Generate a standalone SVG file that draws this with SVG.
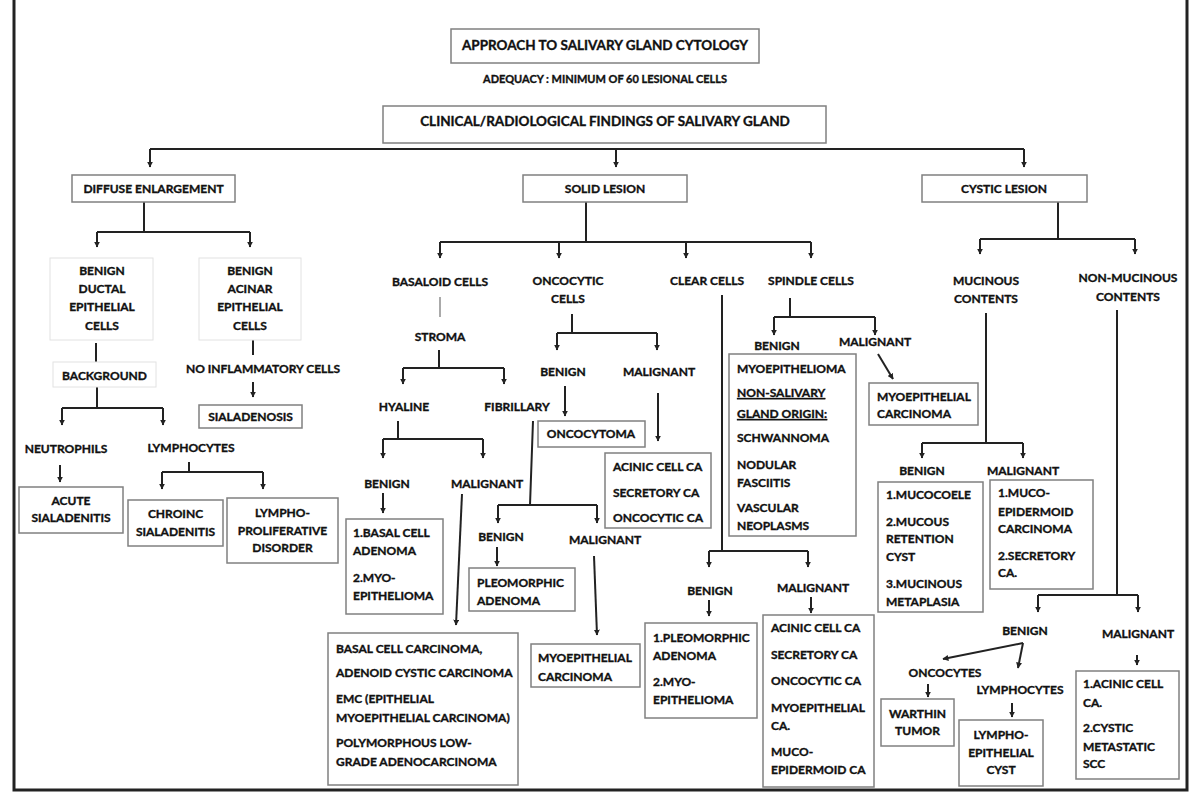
<svg xmlns="http://www.w3.org/2000/svg" width="1200" height="794" viewBox="0 0 1200 794">
<style>
text{font-family:Lato,"Liberation Sans",sans-serif;font-weight:700;font-size:12px;fill:#111;stroke:#111;stroke-width:0.35}
.c{text-anchor:middle}
.h{font-size:13.5px}
.s{font-size:11px}
.b{fill:#fff;stroke:#808080;stroke-width:1.5}
.f{fill:#fff;stroke:#e2e2e2;stroke-width:1}
.ln{stroke:#222;stroke-width:2;fill:none}
.ar{marker-end:url(#ah)}
.g{stroke:#aaa}
.u{text-decoration:underline}
</style>
<defs>
<marker id="ah" viewBox="0 0 10 10" refX="9" refY="5" markerWidth="6" markerHeight="6" markerUnits="userSpaceOnUse" orient="auto">
<path d="M0,0 L10,5 L0,10 z" fill="#222"/>
</marker>
</defs>
<rect width="1200" height="794" fill="#fff"/>
<path d="M14,-5 V790 H1187 V-5" fill="none" stroke="#222" stroke-width="3"/>

<g id="connectors" class="ln">
<path d="M150,149 H1024"/>
<path class="ar" d="M150,149 V167"/><path class="ar" d="M616,149 V167"/><path class="ar" d="M1024,149 V167"/>
<path d="M144,202 V232 M97,232 H250"/>
<path class="ar" d="M97,232 V247"/><path class="ar" d="M250,232 V247"/>
<path d="M96,343 V362"/>
<path d="M97,387 V408 M62,408 H163"/>
<path class="ar" d="M62,408 V425"/><path class="ar" d="M163,408 V425"/>
<path d="M253,340 V355"/>
<path class="ar" d="M253,382 V397"/>
<path class="ar" d="M60,465 V482"/>
<path d="M189,462 V472 M162,472 H263"/>
<path class="ar" d="M162,472 V489"/><path class="ar" d="M263,472 V489"/>
<path d="M586,202 V242 M440,242 H811"/>
<path class="ar" d="M440,242 V258"/><path class="ar" d="M559,242 V258"/><path class="ar" d="M686,242 V258"/><path class="ar" d="M811,242 V258"/>
<path class="g" d="M440,297 V317"/>
<path d="M439,350 V368 M403,368 H504"/>
<path class="ar" d="M403,368 V384"/><path class="ar" d="M504,368 V384"/>
<path d="M398,421 V439 M383,439 H483"/>
<path class="ar" d="M383,439 V458"/><path class="ar" d="M483,439 V458"/>
<path class="ar" d="M383,493 V513"/>
<path class="ar" d="M462,494 L456,625"/>
<path d="M572,314 V333 M557,333 H657"/>
<path class="ar" d="M557,333 V350"/><path class="ar" d="M657,333 V350"/>
<path class="ar" d="M565,386 V416"/>
<path class="ar" d="M658,393 V441"/>
<path d="M533,421 L530,505 M498,505 H597"/>
<path class="ar" d="M498,505 V523"/><path class="ar" d="M597,505 V523"/>
<path class="ar" d="M497,547 V566"/>
<path class="ar" d="M594,556 L597,635"/>
<path d="M722,295 V551 M709,551 H808"/>
<path class="ar" d="M709,551 V567"/><path class="ar" d="M808,551 V567"/>
<path class="ar" d="M709,600 V616"/>
<path class="ar" d="M811,597 V613"/>
<path d="M790,298 V317 M774,317 H875"/>
<path class="ar" d="M774,317 V335"/><path class="ar" d="M875,317 V335"/>
<path class="ar" d="M878,354 L893,379"/>
<path d="M1058,202 V239 M980,239 H1135"/>
<path class="ar" d="M980,239 V254"/><path class="ar" d="M1135,239 V254"/>
<path d="M986,313 V443 M922,443 H1023"/>
<path class="ar" d="M922,443 V458"/><path class="ar" d="M1023,443 V458"/>
<path d="M1117,310 V595 M1038,595 H1138"/>
<path class="ar" d="M1038,595 V612"/><path class="ar" d="M1138,595 V612"/>
<path class="ar" d="M1023,643 L943,659"/>
<path class="ar" d="M1023,643 L1018,668"/>
<path class="ar" d="M928,684 V697"/>
<path class="ar" d="M1012,703 V717"/>
<path class="ar" d="M1137,655 V665"/>
</g>

<g id="title"><rect class="b" x="451" y="29" width="308" height="34"/><text class="c h" x="605" y="50">APPROACH TO SALIVARY GLAND CYTOLOGY</text></g>
<g id="adequacy"><text class="c s" x="605" y="83">ADEQUACY : MINIMUM OF 60 LESIONAL CELLS</text></g>
<g id="clinical"><rect class="b" x="383" y="106" width="443" height="37"/><text class="c h" x="605" y="126">CLINICAL/RADIOLOGICAL FINDINGS OF SALIVARY GLAND</text></g>

<g id="diffuse"><rect class="b" x="72" y="175" width="163" height="27"/><text class="c" x="153.5" y="193">DIFFUSE ENLARGEMENT</text></g>
<g id="solid"><rect class="b" x="523" y="175" width="164" height="27"/><text class="c" x="605" y="193">SOLID LESION</text></g>
<g id="cystic"><rect class="b" x="922" y="175" width="165" height="27"/><text class="c" x="1004" y="193">CYSTIC LESION</text></g>

<g id="ductal"><rect class="f" x="50" y="258" width="103" height="82"/>
<text class="c" x="102" y="275">BENIGN</text><text class="c" x="102" y="293">DUCTAL</text><text class="c" x="102" y="311">EPITHELIAL</text><text class="c" x="102" y="330">CELLS</text></g>
<g id="acinar"><rect class="f" x="199" y="258" width="102" height="82"/>
<text class="c" x="250" y="275">BENIGN</text><text class="c" x="250" y="293">ACINAR</text><text class="c" x="250" y="311">EPITHELIAL</text><text class="c" x="250" y="330">CELLS</text></g>
<g id="background"><rect class="f" x="53" y="362" width="103" height="25"/><text class="c" x="104.5" y="380">BACKGROUND</text></g>
<g id="noinfl"><text class="c" x="263" y="373">NO INFLAMMATORY CELLS</text></g>
<g id="sialadenosis"><rect class="b" x="199" y="405" width="103" height="23"/><text class="c" x="250.5" y="421">SIALADENOSIS</text></g>
<g id="neutrophils"><text class="c" x="66" y="453">NEUTROPHILS</text></g>
<g id="acute"><rect class="b" x="19" y="487" width="104" height="46"/><text class="c" x="71" y="505">ACUTE</text><text class="c" x="71" y="522">SIALADENITIS</text></g>
<g id="lymphocytes1"><text class="c" x="191" y="452">LYMPHOCYTES</text></g>
<g id="chronic"><rect class="b" x="128" y="500" width="95" height="46"/><text class="c" x="175.5" y="518">CHROINC</text><text class="c" x="175.5" y="536">SIALADENITIS</text></g>
<g id="lympho"><rect class="b" x="227" y="498" width="111" height="65"/><text class="c" x="282.5" y="517">LYMPHO-</text><text class="c" x="282.5" y="535">PROLIFERATIVE</text><text class="c" x="282.5" y="552">DISORDER</text></g>

<g id="basaloid"><text class="c" x="440" y="286">BASALOID CELLS</text></g>
<g id="stroma"><text class="c" x="440" y="341">STROMA</text></g>
<g id="hyaline"><text class="c" x="404" y="411">HYALINE</text></g>
<g id="fibrillary"><text class="c" x="517" y="411">FIBRILLARY</text></g>
<g id="hyaline-benign"><text class="c" x="387" y="488">BENIGN</text></g>
<g id="hyaline-malignant"><text class="c" x="487" y="488">MALIGNANT</text></g>
<g id="basal-adenoma"><rect class="b" x="346" y="519" width="97" height="95"/>
<text x="353" y="537">1.BASAL CELL</text><text x="353" y="555">ADENOMA</text><text x="353" y="582">2.MYO-</text><text x="353" y="600">EPITHELIOMA</text></g>
<g id="basal-carcinoma"><rect class="b" x="328" y="633" width="190" height="152"/>
<text x="336" y="653">BASAL CELL CARCINOMA,</text><text x="336" y="677">ADENOID CYSTIC CARCINOMA</text><text x="336" y="703">EMC (EPITHELIAL</text><text x="336" y="722">MYOEPITHELIAL CARCINOMA)</text><text x="336" y="747">POLYMORPHOUS LOW-</text><text x="336" y="766">GRADE ADENOCARCINOMA</text></g>

<g id="oncocytic"><text class="c" x="568" y="285">ONCOCYTIC</text><text class="c" x="568" y="303">CELLS</text></g>
<g id="onco-benign"><text class="c" x="563" y="376">BENIGN</text></g>
<g id="onco-malignant"><text class="c" x="659" y="376">MALIGNANT</text></g>
<g id="oncocytoma"><rect class="b" x="538" y="421" width="107" height="26"/><text class="c" x="591" y="438">ONCOCYTOMA</text></g>
<g id="onco-ca"><rect class="b" x="605" y="453" width="106" height="75"/>
<text x="613" y="471">ACINIC CELL CA</text><text x="613" y="497">SECRETORY CA</text><text x="613" y="522">ONCOCYTIC CA</text></g>

<g id="fib-benign"><text class="c" x="501" y="541">BENIGN</text></g>
<g id="fib-malignant"><text class="c" x="605" y="544">MALIGNANT</text></g>
<g id="pleomorphic"><rect class="b" x="469" y="568" width="106" height="43"/><text x="477" y="587">PLEOMORPHIC</text><text x="477" y="605">ADENOMA</text></g>
<g id="myo-ca1"><rect class="b" x="531" y="644" width="109" height="43"/><text x="538" y="662">MYOEPITHELIAL</text><text x="538" y="681">CARCINOMA</text></g>

<g id="clear"><text class="c" x="707" y="285">CLEAR CELLS</text></g>
<g id="clear-benign"><text class="c" x="710" y="595">BENIGN</text></g>
<g id="clear-malignant"><text class="c" x="813" y="592">MALIGNANT</text></g>
<g id="clear-benign-box"><rect class="b" x="645" y="623" width="112" height="95"/>
<text x="653" y="642">1.PLEOMORPHIC</text><text x="653" y="660">ADENOMA</text><text x="653" y="686">2.MYO-</text><text x="653" y="704">EPITHELIOMA</text></g>
<g id="clear-malignant-box"><rect class="b" x="763" y="615" width="111" height="172"/>
<text x="771" y="632">ACINIC CELL CA</text><text x="771" y="659">SECRETORY CA</text><text x="771" y="685">ONCOCYTIC CA</text><text x="771" y="712">MYOEPITHELIAL</text><text x="771" y="730">CA.</text><text x="771" y="756">MUCO-</text><text x="771" y="774">EPIDERMOID CA</text></g>

<g id="spindle"><text class="c" x="811" y="285">SPINDLE CELLS</text></g>
<g id="spindle-benign"><text class="c" x="777" y="350">BENIGN</text></g>
<g id="spindle-malignant"><text class="c" x="875" y="346">MALIGNANT</text></g>
<g id="spindle-benign-box"><rect class="b" x="729" y="354" width="127" height="182"/>
<text x="737" y="373">MYOEPITHELIOMA</text><text class="u" x="737" y="397">NON-SALIVARY</text><text class="u" x="737" y="418">GLAND ORIGIN:</text><text x="737" y="442">SCHWANNOMA</text><text x="737" y="469">NODULAR</text><text x="737" y="487">FASCIITIS</text><text x="737" y="512">VASCULAR</text><text x="737" y="530">NEOPLASMS</text></g>
<g id="myo-ca2"><rect class="b" x="869" y="383" width="109" height="42"/><text x="877" y="401">MYOEPITHELIAL</text><text x="877" y="418">CARCINOMA</text></g>

<g id="mucinous"><text class="c" x="986" y="285">MUCINOUS</text><text class="c" x="986" y="303">CONTENTS</text></g>
<g id="nonmucinous"><text class="c" x="1128" y="282">NON-MUCINOUS</text><text class="c" x="1128" y="301">CONTENTS</text></g>
<g id="muc-benign"><text class="c" x="922" y="475">BENIGN</text></g>
<g id="muc-malignant"><text class="c" x="1023" y="475">MALIGNANT</text></g>
<g id="muc-benign-box"><rect class="b" x="878" y="482" width="105" height="130"/>
<text x="886" y="499">1.MUCOCOELE</text><text x="886" y="526">2.MUCOUS</text><text x="886" y="543">RETENTION</text><text x="886" y="561">CYST</text><text x="886" y="588">3.MUCINOUS</text><text x="886" y="606">METAPLASIA</text></g>
<g id="muc-malignant-box"><rect class="b" x="990" y="480" width="103" height="109"/>
<text x="998" y="497">1.MUCO-</text><text x="998" y="516">EPIDERMOID</text><text x="998" y="533">CARCINOMA</text><text x="998" y="560">2.SECRETORY</text><text x="998" y="577">CA.</text></g>
<g id="nm-benign"><text class="c" x="1025" y="635">BENIGN</text></g>
<g id="nm-malignant"><text class="c" x="1138" y="638">MALIGNANT</text></g>
<g id="oncocytes"><text class="c" x="945" y="677">ONCOCYTES</text></g>
<g id="warthin"><rect class="b" x="881" y="699" width="73" height="47"/><text class="c" x="917.5" y="718">WARTHIN</text><text class="c" x="917.5" y="735">TUMOR</text></g>
<g id="lymphocytes2"><text class="c" x="1020" y="694">LYMPHOCYTES</text></g>
<g id="lymphoepithelial"><rect class="b" x="959" y="720" width="84" height="66"/><text class="c" x="1001" y="739">LYMPHO-</text><text class="c" x="1001" y="757">EPITHELIAL</text><text class="c" x="1001" y="774">CYST</text></g>
<g id="nm-malignant-box"><rect class="b" x="1076" y="671" width="103" height="108"/>
<text x="1083" y="688">1.ACINIC CELL</text><text x="1083" y="707">CA.</text><text x="1083" y="732">2.CYSTIC</text><text x="1083" y="751">METASTATIC</text><text x="1083" y="768">SCC</text></g>
</svg>
